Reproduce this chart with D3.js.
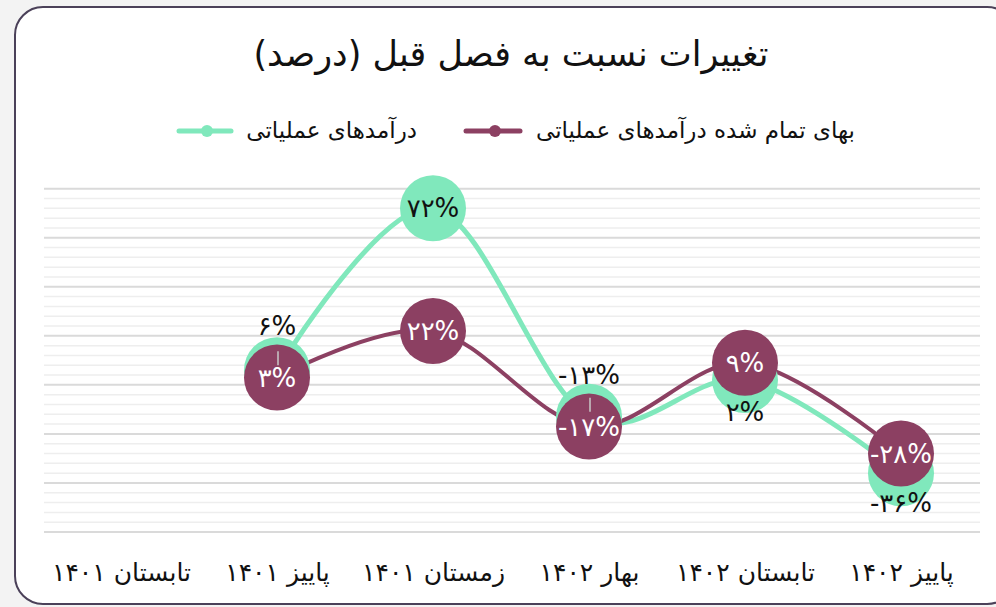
<!DOCTYPE html>
<html>
<head>
<meta charset="utf-8">
<script src="https://cdn.jsdelivr.net/npm/d3@7"></script>
<style>
  html, body { margin: 0; padding: 0; background: #f3f3f3; }
  svg { display: block; font-family: "DejaVu Sans", sans-serif; }
</style>
</head>
<body>
<svg id="chart" width="996" height="607"></svg>
<script>
// ---- data ----
const title = "تغییرات نسبت به فصل قبل (درصد)";
const categories = ["تابستان ۱۴۰۱", "پاییز ۱۴۰۱", "زمستان ۱۴۰۱", "بهار ۱۴۰۲", "تابستان ۱۴۰۲", "پاییز ۱۴۰۲"];
const revenueName = "درآمدهای عملیاتی";
const revenueValues = [null, 6, 72, -13, 2, -36];
const costName = "بهای تمام شده درآمدهای عملیاتی";
const costValues = [null, 3, 22, -17, 9, -28];
const yMajorTicks = [-60, -40, -20, 0, 20, 40, 60, 80];
const yMinorStep = 4;

const faDigits = s => String(s).replace(/\d/g, d => "۰۱۲۳۴۵۶۷۸۹"[d]);
const fmt = v => (v < 0 ? "-" : "") + faDigits(Math.abs(v)) + "%";

const W = 996, H = 607;
const svg = d3.select("#chart");
const green = "#80e8bc", purple = "#8c4062";

// background card
svg.append("rect").attr("x", 15).attr("y", 7).attr("width", 1000).attr("height", 597)
  .attr("rx", 28).attr("fill", "#ffffff").attr("stroke", "#4b4159").attr("stroke-width", 2);

// scales
const x = d3.scalePoint().domain(categories).range([43, 979]).padding(0.5);
const y = d3.scaleLinear().domain([-60, 80]).range([532, 188.7]);

// grid
const minorTicks = d3.range(-60, 80 + 0.001, yMinorStep).filter(t => !yMajorTicks.includes(t));
const grid = svg.append("g");
grid.selectAll("line.minor").data(minorTicks).join("line")
  .attr("class", "minor").attr("x1", 44).attr("x2", 980)
  .attr("y1", d => y(d)).attr("y2", d => y(d))
  .attr("stroke", "#eeeeee").attr("stroke-width", 1.5);
grid.selectAll("line.major").data(yMajorTicks).join("line")
  .attr("class", "major").attr("x1", 44).attr("x2", 980)
  .attr("y1", d => y(d)).attr("y2", d => y(d))
  .attr("stroke", "#dadada").attr("stroke-width", 2);

// x axis labels
const xAxis = d3.axisBottom(x).tickSize(0).tickPadding(0);
const gx = svg.append("g").attr("transform", "translate(0,572)").call(xAxis);
gx.select(".domain").remove();
gx.selectAll("text").attr("font-size", 25).attr("fill", "#111").attr("dy", "0.35em")
  .attr("font-family", "DejaVu Sans, sans-serif").attr("direction", "rtl");

// title
svg.append("text").attr("x", 511).attr("y", 56).attr("text-anchor", "middle")
  .attr("dominant-baseline", "middle").attr("font-size", 35).attr("fill", "#111")
  .attr("direction", "rtl").text(title);

// legend
function legendItem(textRight, lineX1, lineX2, color, name) {
  const g = svg.append("g");
  g.append("line").attr("x1", lineX1).attr("x2", lineX2).attr("y1", 131).attr("y2", 131)
    .attr("stroke", color).attr("stroke-width", 5).attr("stroke-linecap", "round");
  g.append("circle").attr("cx", (lineX1 + lineX2) / 2 + 2).attr("cy", 131).attr("r", 6).attr("fill", color);
  g.append("text").attr("x", textRight).attr("y", 131).attr("text-anchor", "start")
    .attr("direction", "rtl").attr("dominant-baseline", "middle")
    .attr("font-size", 23).attr("fill", "#111").text(name);
}
legendItem(855, 466, 520, purple, costName);
legendItem(417, 179, 231, green, revenueName);

// data points
const rev = categories.map((c, i) => ({ c, v: revenueValues[i], other: costValues[i] }));
const cost = categories.map((c, i) => ({ c, v: costValues[i] }));

const line = d3.line().defined(d => d.v != null)
  .x(d => x(d.c)).y(d => y(d.v)).curve(d3.curveCardinal.tension(0));

svg.append("path").datum(rev).attr("d", line).attr("fill", "none")
  .attr("stroke", green).attr("stroke-width", 5);
svg.append("path").datum(cost).attr("d", line).attr("fill", "none")
  .attr("stroke", purple).attr("stroke-width", 4);

const R = 33;
svg.append("g").selectAll("circle").data(rev.filter(d => d.v != null)).join("circle")
  .attr("cx", d => x(d.c)).attr("cy", d => y(d.v)).attr("r", R).attr("fill", green);
svg.append("g").selectAll("circle").data(cost.filter(d => d.v != null)).join("circle")
  .attr("cx", d => x(d.c)).attr("cy", d => y(d.v)).attr("r", R).attr("fill", purple);

// green labels: pushed outside when overlapping the purple marker
const revLab = rev.filter(d => d.v != null).map(d => {
  const gy = y(d.v), py = y(d.other);
  let ly = gy, above = false;
  if (Math.abs(gy - py) < 2 * R) {
    above = gy < py;
    ly = above ? py - 52 : py + 49;
  }
  return { ...d, gy, ly, above };
});
// small leader ticks
svg.append("g").selectAll("line").data(revLab.filter(d => d.above)).join("line")
  .attr("x1", d => x(d.c) + 1).attr("x2", d => x(d.c) + 1)
  .attr("y1", d => d.gy - 19).attr("y2", d => d.gy - 5)
  .attr("stroke", "#c8c8c8").attr("stroke-width", 1.5);

svg.append("g").selectAll("text").data(revLab).join("text")
  .attr("x", d => x(d.c)).attr("y", d => d.ly).attr("text-anchor", "middle")
  .attr("dominant-baseline", "central").attr("font-size", 26).attr("fill", "#111")
  .text(d => fmt(d.v));
svg.append("g").selectAll("text").data(cost.filter(d => d.v != null)).join("text")
  .attr("x", d => x(d.c)).attr("y", d => y(d.v)).attr("text-anchor", "middle")
  .attr("dominant-baseline", "central").attr("font-size", 26).attr("fill", "#ffffff")
  .text(d => fmt(d.v));
</script>
</body>
</html>
